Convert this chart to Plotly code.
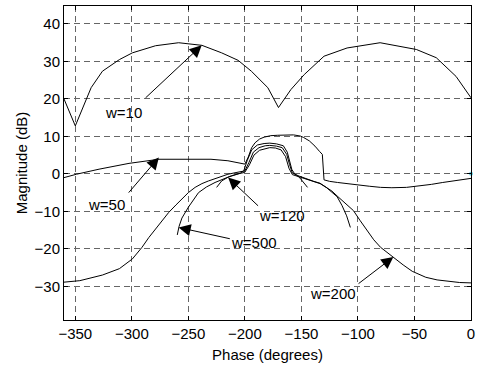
import plotly.graph_objects as go

# ---- data (phase in degrees, magnitude in dB) ----
w10_phase = [-360, -350, -336, -326, -311, -299.5, -279, -258.6, -238, -220.6, -206, -194.3,
             -179.7, -170.3, -159.3, -147.5, -130, -109.6, -80.4, -48.3, -30.7, -13.2, 0]
w10_mag = [20, 12.8, 23, 27.4, 30.5, 32.3, 34.2, 35, 34.3, 32.3, 30.3, 27.4,
           23, 17.7, 22.5, 26.5, 31.4, 33.6, 35, 33.2, 31, 26, 20.3]

w50_phase = [-360, -349, -329, -302.5, -276, -250, -230, -215, -206, -200, -197, -194, -191,
             -187, -183, -177, -171, -164, -157, -151, -148, -143, -138, -134, -131.5, -130,
             -125, -118, -104, -90, -80, -70, -57, -45, -35, -25, -15, -5, 0]
w50_mag = [-1, -0.1, 1.25, 2.8, 3.9, 3.9, 3.9, 3.5, 3, 2.6, 4.5, 7, 8.3,
           9.3, 9.8, 10.2, 10.3, 10.4, 10.4, 10.1, 9.7, 8.8, 7.4, 6, 5.2, -1.6,
           -2, -2.3, -2.7, -3.3, -3.6, -3.7, -3.6, -3.2, -2.8, -2.3, -1.8, -1.4, -1.2]

w120_phase = [-225, -220.6, -215, -209, -204, -201, -198, -194, -189, -183, -178, -172,
              -166, -162.5, -160, -158.5, -156, -153, -150.5, -147.5, -144.6]
w120_mag = [-3.6, -1.9, -0.9, -0.3, 0.2, 0.8, 3.5, 6.4, 7.7, 8.1, 8.2, 8.0,
            7.5, 5.8, 3, 1.2, 0.0, -0.6, -1.4, -2.5, -3.6]

w200_phase = [-360, -346, -326, -311, -299.5, -291, -285, -279, -273, -267.4, -261, -255.7,
              -250, -244, -238, -232.3, -223, -215, -207, -200, -196.5, -192.5, -187.5, -182,
              -178, -172, -167, -163, -160.5, -158, -152, -145, -139, -133.5, -127.7, -123,
              -118.4, -111, -104, -98, -92, -86, -80, -69, -60, -52, -40, -30, -20, -10, 0]
w200_mag = [-28.9, -28.5, -27, -25.3, -22.7, -19.6, -17, -14.7, -12.4, -10.3, -8.3, -6.7,
            -5, -3.6, -2.6, -1.9, -0.9, -0.1, 0.4, 0.8, 3.0, 5.8, 7.0, 7.5,
            7.6, 7.4, 7.0, 5.2, 2.5, 0.2, -0.6, -1.4, -2.0, -2.5, -3.6, -4.6,
            -5.9, -7.8, -9.8, -12.5, -15.2, -17.6, -19.6, -22.3, -24.3, -26, -27.6, -28.3, -28.7, -29, -29.1]

w500_phase = [-259.8, -258.2, -255.7, -250, -241, -234, -226.4, -219, -211.9, -206, -200.1,
              -196, -192, -187, -182, -178, -173, -168, -164, -161, -158, -152, -145, -139,
              -133.5, -127.7, -123, -118.4, -114, -110, -106.7]
w500_mag = [-16.3, -14.0, -11.8, -8.9, -5, -3.5, -2.3, -1.3, -0.5, 0, 0.4,
            2.4, 5.0, 6.3, 6.8, 7.0, 6.9, 6.4, 4.6, 1.5, -0.2, -0.8, -1.5, -2.1,
            -2.6, -3.7, -4.8, -6.1, -8.5, -11.2, -14.3]

# labels: text, text position, arrow tail, arrow tip
label_text = ["w=10", "w=50", "w=120", "w=500", "w=200"]
label_x = [-307.6, -322, -167.4, -191.9, -122]
label_y = [16.4, -8.1, -11.2, -18.4, -32]
tail_x = [-289.2, -303.9, -187, -212, -100.8]
tail_y = [19.9, -5.4, -8.9, -17.4, -29.6]
tip_x = [-238.2, -276.1, -214.8, -258.6, -68.7]
tip_y = [34.3, 4.4, -1.0, -14.3, -22.2]

x_ticks = [-350, -300, -250, -200, -150, -100, -50, 0]
y_ticks = [-30, -20, -10, 0, 10, 20, 30, 40]

FONT = "Liberation Sans, Arial, sans-serif"
FS = 15

fig = go.Figure()
for ph, mg in [(w10_phase, w10_mag), (w50_phase, w50_mag), (w120_phase, w120_mag),
               (w200_phase, w200_mag), (w500_phase, w500_mag)]:
    fig.add_trace(go.Scatter(x=ph, y=mg, mode="lines", line=dict(color="black", width=1),
                             showlegend=False, hoverinfo="skip"))
fig.add_trace(go.Scatter(x=[0], y=[0], mode="markers", marker=dict(color="#5fd0e6", size=4),
                         showlegend=False, cliponaxis=False, hoverinfo="skip"))

annotations = []
for i in range(len(label_text)):
    annotations.append(dict(x=tip_x[i], y=tip_y[i], ax=tail_x[i], ay=tail_y[i],
                            xref="x", yref="y", axref="x", ayref="y", text="",
                            showarrow=True, arrowhead=2, arrowsize=2.4, arrowwidth=1,
                            arrowcolor="black"))
    annotations.append(dict(x=label_x[i], y=label_y[i], xref="x", yref="y", text=label_text[i],
                            showarrow=False, font=dict(family=FONT, size=FS, color="black")))

grid = dict(showgrid=True, gridcolor="#666666", gridwidth=1, griddash="6px,4px",
            showline=True, linecolor="black", linewidth=1, mirror="ticks",
            ticks="inside", ticklen=4, tickcolor="black", zeroline=False,
            tickfont=dict(family=FONT, size=FS, color="black"))

fig.update_layout(
    width=480, height=366,
    margin=dict(l=64, r=5, t=6, b=44),
    paper_bgcolor="white", plot_bgcolor="white",
    xaxis=dict(range=[-360, 0], tickvals=x_ticks,
               title=dict(text="Phase (degrees)", font=dict(family=FONT, size=FS, color="black"), standoff=8),
               **grid),
    yaxis=dict(range=[-39, 44.8], tickvals=y_ticks,
               title=dict(text="Magnitude (dB)", font=dict(family=FONT, size=FS, color="black"), standoff=3),
               **grid),
    annotations=annotations,
)

fig.write_html("out.html")
